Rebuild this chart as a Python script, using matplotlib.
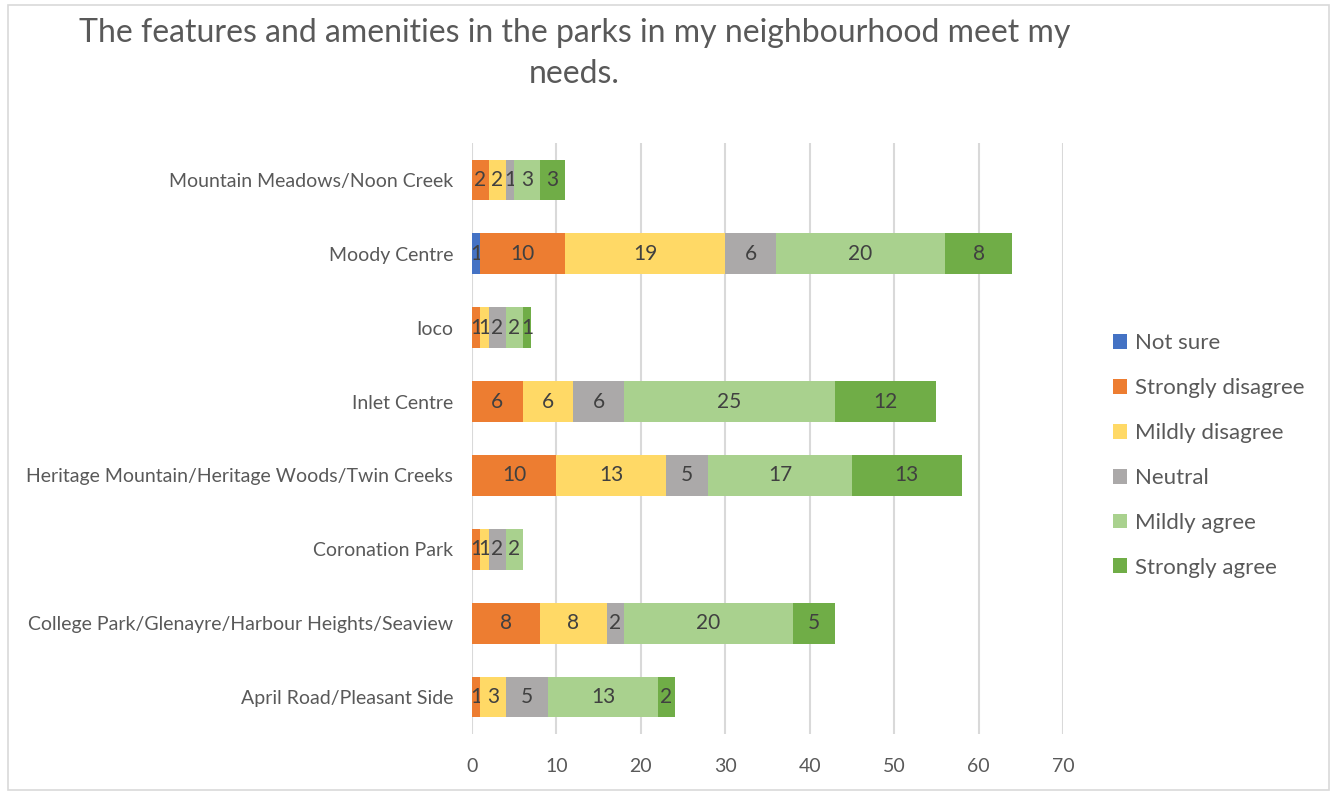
import matplotlib
matplotlib.use("Agg")
import matplotlib.pyplot as plt
from matplotlib.patches import Rectangle
import numpy as np

plt.rcParams['font.family'] = ['Lato', 'DejaVu Sans']

categories = ["April Road/Pleasant Side",
              "College Park/Glenayre/Harbour Heights/Seaview",
              "Coronation Park",
              "Heritage Mountain/Heritage Woods/Twin Creeks",
              "Inlet Centre",
              "Ioco",
              "Moody Centre",
              "Mountain Meadows/Noon Creek"]
series_names = ["Not sure", "Strongly disagree", "Mildly disagree",
                "Neutral", "Mildly agree", "Strongly agree"]
not_sure = [0, 0, 0, 0, 0, 0, 1, 0]
strongly_disagree = [1, 8, 1, 10, 6, 1, 10, 2]
mildly_disagree = [3, 8, 1, 13, 6, 1, 19, 2]
neutral = [5, 2, 2, 5, 6, 2, 6, 1]
mildly_agree = [13, 20, 2, 17, 25, 2, 20, 3]
strongly_agree = [2, 5, 0, 13, 12, 1, 8, 3]
xticks = [0, 10, 20, 30, 40, 50, 60, 70]

colors = ["#4472C4", "#ED7D31", "#FFD966", "#ABA9A9", "#A9D18E", "#70AD47"]
series = [not_sure, strongly_disagree, mildly_disagree, neutral, mildly_agree, strongly_agree]

fig = plt.figure(figsize=(13.33, 7.93), dpi=100)
ax = fig.add_axes([0.3541, 0.0744, 0.4434, 0.7453])

y = np.arange(len(categories))
left = np.zeros(len(categories))
text_color = "#404040"
for name, vals, c in zip(series_names, series, colors):
    vals = np.array(vals, dtype=float)
    bars = ax.barh(y, vals, left=left, height=0.55, color=c, label=name, zorder=3)
    labels = [str(int(v)) if v > 0 else "" for v in vals]
    ax.bar_label(bars, labels=labels, label_type='center', fontsize=15, color=text_color)
    left += vals

ax.set_xlim(0, 70)
ax.set_ylim(-0.5, len(categories) - 0.5)
ax.set_xticks(xticks)
ax.set_yticks(y)
ax.set_yticklabels(categories)
ax.tick_params(axis='both', length=0, colors="#595959")
ax.tick_params(axis='x', pad=17, labelsize=14)
ax.tick_params(axis='y', pad=13.5, labelsize=14)
ax.grid(axis='x', color="#D9D9D9", linewidth=1.5, zorder=0)
for s in ax.spines.values():
    s.set_visible(False)

fig.text(0.431, 0.958, "The features and amenities in the parks in my neighbourhood meet my",
         ha='center', va='center', fontsize=23, color="#595959")
fig.text(0.431, 0.907, "needs.", ha='center', va='center', fontsize=23, color="#595959")

leg = fig.legend(loc='upper left', bbox_to_anchor=(0.828, 0.591), frameon=False,
                 fontsize=16, labelcolor="#595959", handlelength=0.65, handleheight=0.65,
                 handletextpad=0.35, labelspacing=1.12, borderaxespad=0)

fig.patches.append(Rectangle((0.006, 0.004), 0.991, 0.99, transform=fig.transFigure,
                             fill=False, edgecolor="#D9D9D9", linewidth=1.2))

fig.savefig("out.png", dpi=100, facecolor="white")
